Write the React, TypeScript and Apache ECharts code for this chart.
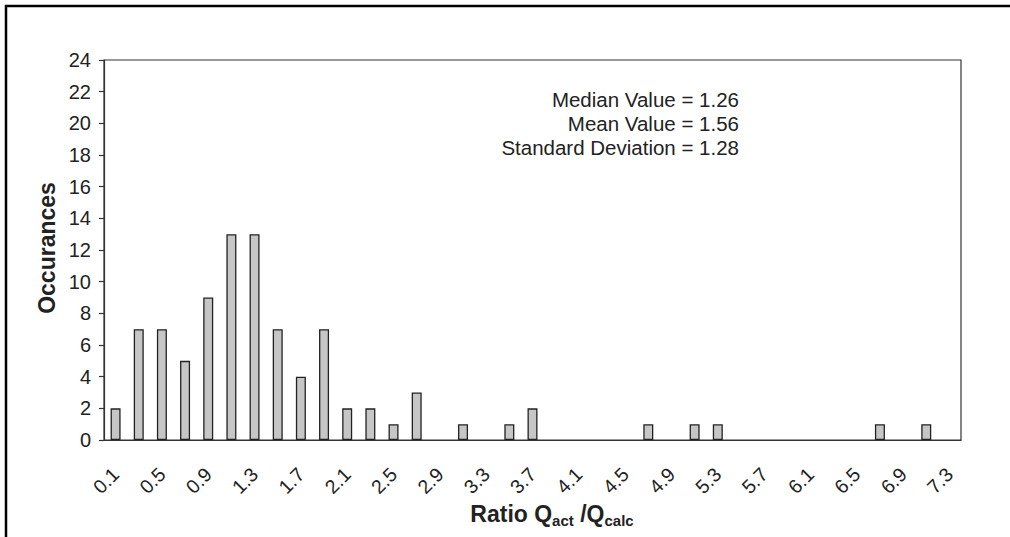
import React, { useEffect, useRef } from "react";
import * as echarts from "echarts";

// Histogram bins (ratio Q_act / Q_calc), step 0.2
const ratioBins: string[] = [
  "0.1", "0.3", "0.5", "0.7", "0.9", "1.1", "1.3", "1.5", "1.7", "1.9",
  "2.1", "2.3", "2.5", "2.7", "2.9", "3.1", "3.3", "3.5", "3.7", "3.9",
  "4.1", "4.3", "4.5", "4.7", "4.9", "5.1", "5.3", "5.5", "5.7", "5.9",
  "6.1", "6.3", "6.5", "6.7", "6.9", "7.1", "7.3",
];

// Number of occurrences per bin
const occurrences: number[] = [
  2, 7, 7, 5, 9, 13, 13, 7, 4, 7,
  2, 2, 1, 3, 0, 1, 0, 1, 2, 0,
  0, 0, 0, 1, 0, 1, 1, 0, 0, 0,
  0, 0, 0, 1, 0, 1, 0,
];

// Summary statistics shown in the plot
const statLines: string[] = [
  "Median Value = 1.26",
  "Mean Value = 1.56",
  "Standard Deviation = 1.28",
];

const FONT = "'Liberation Sans', Arial, Helvetica, sans-serif";
const INK = "#222";

export default function App() {
  const ref = useRef<HTMLDivElement>(null);

  useEffect(() => {
    if (!ref.current) return;
    const chart = echarts.init(ref.current, undefined, { renderer: "svg" });

    const statGraphics = statLines.map((t, i) => ({
      type: "text",
      x: 739,
      y: 99 + i * 24,
      style: {
        text: t,
        fontFamily: FONT,
        fontSize: 20.5,
        fill: INK,
        align: "right",
        verticalAlign: "middle",
      },
    }));

    // empty bins get no outline so nothing is drawn on the axis
    const barData = occurrences.map((v) =>
      v === 0 ? { value: v, itemStyle: { borderWidth: 0, opacity: 0 } } : v
    );

    chart.setOption({
      animation: false,
      backgroundColor: "#fff",
      grid: {
        left: 104,
        right: 49,
        top: 60,
        bottom: 97,
        show: true,
        borderColor: "#333",
        borderWidth: 1.2,
        backgroundColor: "transparent",
      },
      xAxis: {
        type: "category",
        data: ratioBins,
        boundaryGap: true,
        axisLine: { lineStyle: { color: "#333", width: 1.2 } },
        axisTick: { interval: 0, length: 5, lineStyle: { color: "#333", width: 1.2 } },
        axisLabel: {
          interval: 1,
          rotate: 45,
          margin: 31,
          padding: [0, 0, 0, 0],
          fontFamily: FONT,
          fontSize: 19.5,
          color: INK,
        },
        splitLine: { show: false },
      },
      yAxis: {
        type: "value",
        min: 0,
        max: 24,
        interval: 2,
        axisLine: { show: true, lineStyle: { color: "#333", width: 1.2 } },
        axisTick: { show: true, length: 5, lineStyle: { color: "#333", width: 1.2 } },
        axisLabel: { margin: 13, fontFamily: FONT, fontSize: 20, color: INK },
        splitLine: { show: false },
      },
      series: [
        {
          type: "bar",
          data: barData,
          barWidth: 10,
          itemStyle: {
            color: "#c6c6c6",
            borderColor: "#222",
            borderWidth: 1.3,
          },
        },
      ],
      graphic: [
        {
          type: "rect",
          shape: { x: 6, y: 6, width: 1100, height: 600 },
          style: { fill: "none", stroke: "#000", lineWidth: 2.5 },
          silent: true,
        },
        {
          type: "text",
          x: 47,
          y: 248,
          rotation: Math.PI / 2,
          style: {
            text: "Occurances",
            fontFamily: FONT,
            fontSize: 23,
            fontWeight: "bold",
            fill: INK,
            align: "center",
            verticalAlign: "middle",
          },
        },
        {
          type: "text",
          x: 552,
          y: 514,
          style: {
            text: "{m|Ratio Q}{s|act}{m| /Q}{s|calc}",
            align: "center",
            verticalAlign: "middle",
            fill: INK,
            rich: {
              m: {
                fontFamily: FONT,
                fontSize: 23,
                fontWeight: "bold",
                lineHeight: 28,
                fill: INK,
              },
              s: {
                fontFamily: FONT,
                fontSize: 15,
                fontWeight: "bold",
                lineHeight: 12,
                verticalAlign: "bottom",
                fill: INK,
              },
            },
          },
        },
        ...statGraphics,
      ],
    });

    return () => chart.dispose();
  }, []);

  return (
    <div
      ref={ref}
      style={{ position: "fixed", left: 0, top: 0, width: 1010, height: 537 }}
    />
  );
}
